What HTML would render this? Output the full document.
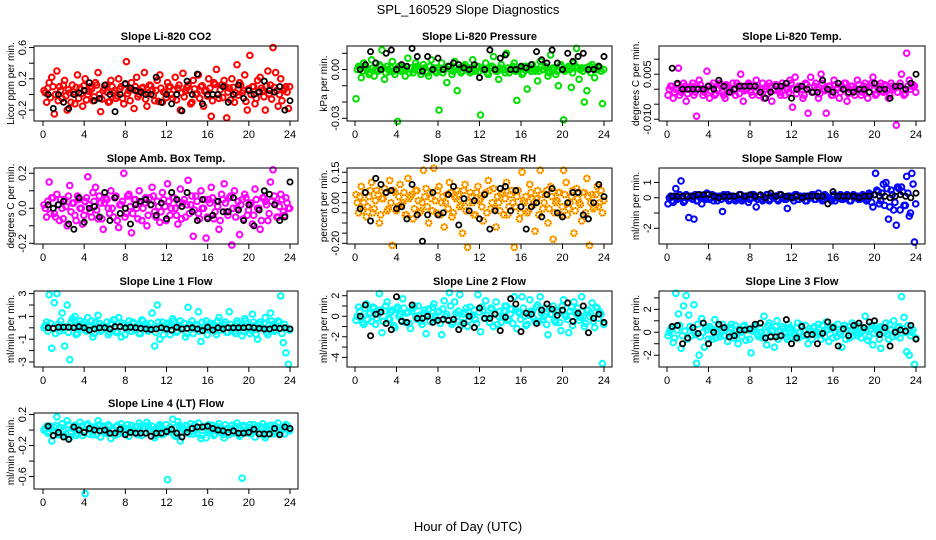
<!DOCTYPE html>
<html><head><meta charset="utf-8">
<style>
html,body{margin:0;padding:0;background:#fff;}
svg{display:block;font-family:"Liberation Sans",Arial,sans-serif;}
</style></head>
<body>
<svg id="chart" width="936" height="540" viewBox="0 0 936 540">
<text x="468" y="14" text-anchor="middle" font-size="13">SPL_160529  Slope Diagnostics</text>
<text x="468" y="531" text-anchor="middle" font-size="13">Hour of Day (UTC)</text>
</svg>
<script>
const xTicks = [0,4,8,12,16,20,24];
const co2Color = [0.05,-0.1,0.15,0.22,-0.25,0.3,0.1,-0.05,0.18,-0.2,0.02,0.12,-0.12,0.25,0.08,-0.15,0.2,0.0,0.1,-0.08,0.15,0.28,-0.22,0.05,0.12,-0.1,0.18,0.02,-0.05,0.2,0.1,-0.12,0.42,0.05,0.15,-0.18,0.22,0.0,0.08,0.28,-0.15,0.12,0.05,-0.08,0.18,0.25,-0.1,0.02,0.15,0.1,-0.05,0.22,0.08,-0.2,0.27,0.05,0.12,-0.12,0.18,0.0,0.25,0.1,-0.15,0.05,0.2,-0.28,0.15,0.32,-0.05,0.12,0.18,-0.3,0.08,0.2,-0.1,0.38,0.15,0.02,0.25,-0.2,0.5,0.1,-0.12,0.18,0.22,0.05,-0.2,0.3,0.12,0.6,0.28,-0.15,0.2,0.05,0.1,-0.18];
const co2Core = [0.02,0.08,-0.04,0.1,0.0,-0.08,0.05,0.12,-0.02,0.06,-0.1,0.03,0.09,-0.05,0.01,0.11,-0.07,0.04,0.07,-0.03,0.12,0.0,-0.06,0.08,0.03,-0.09,0.1,0.05,-0.02,0.07,-0.05,0.13,0.01,-0.08,0.06,0.1,-0.03,0.04,0.09,-0.06,0.02,0.11,-0.01,0.05,-0.09,0.08,0.03,-0.04,0.1,0.0,0.06,-0.07,0.12,0.02,-0.03,0.09,0.05,-0.1,0.07,0.01,-0.05,0.11,0.04,-0.02,0.08,-0.08,0.13,0.0,0.06,-0.04,0.1,0.03,-0.07,0.09,0.02,-0.01,0.12,0.05,-0.09,0.07,0.0,0.1,-0.05,0.04,0.08,-0.03,0.11,0.01,-0.06,0.09,0.05,0.0,-0.08,0.07,0.03,0.1];
const co2Black = [0.0,-0.18,0.0,-0.1,-0.18,0.0,0.02,0.05,0.15,-0.08,-0.05,0.12,0.0,-0.22,0.0,0.14,0.08,0.05,0.03,0.0,0.0,0.22,-0.1,0.0,-0.12,0.0,-0.21,0.17,0.0,0.26,-0.12,0.0,0.0,0.0,0.1,-0.1,0.0,0.12,-0.05,0.05,0.0,0.03,0.17,0.05,0.03,0.1,-0.2,-0.08];
const presColor = [-0.018,0.002,-0.005,0.004,0.001,-0.003,0.006,-0.004,0.0,0.003,0.012,-0.006,0.002,-0.001,0.005,-0.003,-0.032,0.002,0.0,-0.004,0.007,0.001,-0.002,0.004,0.0,-0.003,0.003,-0.001,-0.004,0.006,0.001,-0.002,-0.025,0.004,0.0,-0.008,0.002,-0.003,0.005,-0.013,0.001,-0.001,0.003,0.0,-0.002,0.006,-0.001,0.002,-0.028,0.0,0.004,-0.003,0.002,0.008,-0.001,-0.006,0.003,0.0,0.010,-0.002,0.001,0.004,-0.019,0.0,-0.003,0.002,-0.012,0.001,0.003,-0.001,-0.007,0.005,0.0,0.002,-0.004,0.009,0.001,-0.003,-0.010,0.003,-0.031,0.0,0.002,-0.011,0.004,0.013,-0.006,0.001,-0.020,-0.013,0.002,0.003,-0.005,0.0,0.001,-0.021];
const presCore = [0.0,0.001,-0.001,0.002,0.0,-0.002,0.001,0.0,-0.001,0.002,0.001,-0.002,0.0,0.001,-0.001,0.0,0.002,-0.001,0.001,0.0,-0.002,0.001,0.0,0.002,-0.001,0.0,0.001,-0.002,0.002,0.0,-0.001,0.001,0.0,-0.002,0.001,0.002,0.0,-0.001,0.001,0.0,-0.002,0.002,0.0,0.001,-0.001,0.0,0.002,-0.001,0.001,0.0,-0.002,0.001,0.002,0.0,-0.001,0.001,0.0,-0.002,0.001,0.0,0.002,-0.001,0.0,0.001,-0.002,0.002,0.0,-0.001,0.001,0.0,-0.001,0.002,0.0,0.001,-0.002,0.0,0.001,-0.001,0.002,0.0,-0.001,0.001,0.0,-0.002,0.002,0.001,0.0,-0.001,0.001,0.0,-0.002,0.001,0.0,0.002,-0.001,0.0];
const presBlack = [0.0,0.003,0.011,0.004,0.0,0.01,0.012,0.0,0.003,0.002,0.013,0.008,-0.001,0.008,0.0,0.007,0.0,0.002,0.004,0.003,0.001,0.0,0.003,-0.005,0.0,0.012,0.0,0.007,0.009,0.0,0.0,0.002,0.001,0.003,0.011,0.006,0.004,0.012,0.004,0.0,0.01,0.005,0.008,0.01,0.0,0.0,0.002,0.008];
const tempColor = [-0.002,0.001,-0.003,0.0,0.007,-0.001,0.002,-0.004,0.0,0.001,-0.002,-0.009,0.003,0.0,-0.001,0.006,-0.003,0.001,-0.002,0.0,0.002,-0.001,-0.003,0.001,0.0,0.002,-0.002,0.001,0.005,-0.004,0.0,0.002,-0.001,0.001,0.003,-0.002,0.0,-0.003,0.001,0.002,-0.004,0.0,0.001,-0.001,0.002,-0.002,0.0,0.003,-0.006,0.004,0.0,0.001,-0.003,0.002,-0.008,0.004,-0.001,0.002,-0.003,0.005,0.0,-0.008,0.001,-0.002,0.003,0.0,-0.003,0.001,0.002,-0.004,0.0,0.001,-0.002,0.003,0.0,-0.001,0.002,-0.003,0.001,0.004,-0.002,0.0,0.002,-0.001,0.001,-0.003,0.002,0.0,-0.012,0.001,0.005,-0.002,0.012,0.003,0.001,0.001];
const tempCore = [0.0,0.001,-0.001,0.0015,-0.002,0.0005,0.001,-0.0015,0.0,0.002,-0.001,0.0005,0.0015,-0.002,0.0,0.001,-0.0005,0.002,-0.0015,0.0,0.001,-0.002,0.0015,0.0005,-0.001,0.0,0.002,-0.0015,0.001,-0.0005,0.0,0.0015,-0.002,0.001,0.0005,-0.001,0.002,0.0,-0.0015,0.001,-0.0005,0.0015,0.0,-0.002,0.001,0.0005,-0.001,0.002,0.0,-0.0015,0.001,0.0,-0.002,0.0015,0.0005,-0.001,0.001,0.0,-0.0015,0.002,-0.0005,0.0,0.001,-0.002,0.0015,0.0005,-0.001,0.0,0.002,-0.0015,0.001,-0.0005,0.0,0.0015,-0.002,0.001,0.0005,-0.001,0.002,0.0,-0.0015,0.001,-0.0005,0.0015,0.0,-0.002,0.001,0.0005,-0.001,0.002,0.0,-0.0015,0.001,0.0,0.0015,-0.001];
const tempBlack = [0.007,0.002,0.0,0.0,0.0,0.0,0.0,0.001,0.0,0.003,0.001,-0.001,0.0,0.001,0.001,0.001,0.001,-0.001,-0.003,-0.001,0.001,0.001,0.002,-0.003,0.0,0.001,0.0,-0.001,-0.001,0.003,0.0,-0.001,0.002,0.0,-0.001,-0.001,0.0,0.0,-0.001,0.002,0.0,0.0,-0.003,0.001,0.001,0.0,0.002,0.005];
const ambColor = [0.02,-0.05,0.15,0.06,-0.03,0.08,-0.07,0.0,0.05,-0.1,0.13,0.03,-0.04,0.07,0.0,-0.09,0.04,0.18,-0.02,0.09,0.12,-0.06,0.03,-0.12,0.06,0.0,0.1,-0.05,0.07,-0.11,0.02,0.2,-0.03,0.08,-0.14,0.05,0.0,0.1,-0.07,0.03,-0.1,0.06,0.12,-0.02,0.04,-0.08,0.09,0.01,0.14,-0.04,0.06,0.0,-0.09,0.11,0.03,-0.05,0.16,0.02,-0.16,0.07,-0.03,0.1,0.0,-0.17,0.05,0.12,-0.06,0.04,-0.12,0.08,0.14,-0.02,0.06,-0.21,0.1,0.0,-0.15,0.05,0.08,-0.04,0.02,-0.09,0.11,0.0,-0.12,0.06,0.04,-0.07,0.15,0.22,0.03,-0.05,0.08,-0.02,0.06,0.0];
const ambCore = [0.0,0.04,-0.03,0.06,-0.05,0.02,0.05,-0.06,0.01,0.07,-0.02,0.03,-0.07,0.05,0.0,-0.04,0.06,0.02,-0.05,0.04,-0.01,0.07,-0.06,0.03,0.05,-0.03,0.0,0.06,-0.07,0.02,0.04,-0.05,0.07,0.01,-0.03,0.05,-0.06,0.03,0.0,0.06,-0.04,0.02,0.07,-0.05,0.01,-0.02,0.05,-0.07,0.04,0.0,0.06,-0.04,0.03,-0.06,0.05,0.02,-0.03,0.07,-0.01,0.04,-0.06,0.0,0.05,-0.05,0.03,0.06,-0.02,0.01,-0.07,0.05,0.03,-0.04,0.07,0.0,-0.05,0.04,0.02,-0.06,0.06,-0.01,0.03,-0.04,0.05,0.0,-0.07,0.06,0.02,-0.03,0.04,0.07,-0.05,0.01,0.05,-0.04,0.03,0.0];
const ambBlack = [0.02,0.0,0.02,0.04,-0.09,-0.12,0.06,-0.08,0.0,0.01,-0.05,0.09,-0.07,0.06,-0.03,0.0,-0.09,0.02,0.04,0.05,0.02,-0.04,0.03,-0.06,0.09,0.05,0.01,0.09,-0.02,-0.07,0.05,-0.06,-0.04,0.04,-0.02,-0.02,0.06,-0.01,-0.07,0.02,-0.1,-0.01,0.1,0.08,0.02,-0.07,-0.05,0.15];
const rhColor = [0.04,-0.05,0.08,0.0,-0.07,0.03,0.1,-0.03,0.06,-0.1,0.02,0.07,-0.04,0.11,-0.21,0.05,-0.02,0.09,0.0,-0.06,0.12,0.03,-0.08,0.06,0.01,-0.04,0.16,0.07,-0.1,0.02,0.17,-0.05,0.08,0.0,-0.12,0.04,0.1,-0.07,0.03,0.06,-0.02,-0.15,0.09,-0.22,0.05,0.0,-0.06,0.08,0.02,-0.09,0.05,0.11,-0.03,0.07,-0.12,0.0,0.04,-0.06,0.1,-0.02,0.06,-0.22,0.03,-0.08,0.15,0.0,-0.05,0.09,0.02,-0.14,0.06,0.16,-0.03,0.04,-0.1,0.08,-0.18,0.0,0.05,-0.06,0.16,0.1,-0.03,0.03,-0.15,0.07,0.0,-0.09,0.05,0.12,-0.21,0.04,-0.02,0.08,0.0,-0.05];
const rhCore = [0.0,0.03,-0.04,0.05,-0.02,0.06,-0.05,0.01,0.04,-0.06,0.02,0.05,-0.03,0.0,0.06,-0.04,0.03,-0.01,0.05,-0.06,0.02,0.04,-0.03,0.06,-0.05,0.0,0.03,-0.02,0.05,-0.04,0.01,0.06,-0.06,0.03,0.0,-0.03,0.05,-0.05,0.02,0.04,-0.01,0.06,-0.04,0.0,0.03,-0.06,0.05,0.01,-0.02,0.04,-0.05,0.06,0.0,-0.03,0.03,-0.04,0.05,0.02,-0.06,0.04,0.0,-0.02,0.06,-0.05,0.01,0.03,-0.04,0.05,-0.01,0.02,-0.06,0.04,0.0,0.06,-0.03,0.03,-0.05,0.01,0.05,-0.02,0.04,-0.06,0.0,0.06,-0.04,0.02,-0.01,0.05,-0.05,0.03,0.0,-0.03,0.04,-0.02,0.06,0.01];
const rhBlack = [-0.03,0.05,-0.09,0.12,0.09,0.05,0.06,-0.03,-0.02,-0.08,0.09,-0.06,-0.19,-0.06,0.05,-0.06,-0.05,0.04,0.08,-0.11,0.02,-0.04,0.01,-0.08,0.04,-0.13,-0.04,0.07,0.08,-0.04,0.06,-0.02,-0.13,-0.02,0.0,-0.07,0.04,0.07,-0.05,-0.07,0.0,0.05,0.05,-0.06,-0.08,0.0,0.09,0.03];
const flowColor = [-0.4,0.1,-0.3,0.6,0.0,1.1,-0.3,0.2,-1.3,0.1,-1.4,-0.2,0.2,-0.4,0.0,0.3,-0.1,0.2,0.0,-0.2,0.1,-0.9,0.0,0.2,-0.1,0.1,-0.2,0.0,0.2,-0.1,0.1,-0.3,0.0,0.2,-0.6,0.1,-0.1,0.0,0.2,-0.2,0.1,0.0,-0.1,0.2,0.0,-0.1,-0.7,0.1,0.0,0.2,-0.1,0.1,0.0,-0.2,0.1,0.0,0.2,-0.1,0.3,0.0,-0.1,0.1,0.0,-0.2,0.2,0.0,0.1,-0.1,0.0,0.2,-0.2,0.1,0.0,0.1,-0.1,0.2,0.0,-0.1,0.2,-0.6,1.6,0.4,-0.2,0.9,1.0,-1.4,0.5,-0.8,-1.8,0.6,0.7,-0.5,1.4,-1.2,1.6,-2.9];
const flowCore = [0.0,-0.2,0.1,-0.1,0.2,0.0,-0.2,0.1,0.0,-0.1,0.2,-0.2,0.0,0.1,-0.1,0.2,0.0,-0.2,0.1,0.0,-0.1,0.2,0.0,-0.2,0.1,-0.1,0.0,0.2,-0.2,0.0,0.1,-0.1,0.2,0.0,-0.1,0.1,-0.2,0.0,0.2,-0.1,0.0,0.1,-0.2,0.2,0.0,-0.1,0.1,0.0,-0.2,0.2,-0.1,0.0,0.1,-0.2,0.0,0.2,-0.1,0.1,0.0,-0.2,0.2,0.0,-0.1,0.1,-0.2,0.0,0.2,-0.1,0.0,0.1,-0.2,0.2,0.0,-0.1,0.1,0.0,-0.2,0.3,-0.3,0.2,0.5,-0.4,0.3,-0.5,0.6,-0.6,0.2,-0.3,0.7,-0.8,0.4,-0.5,0.3,-1.0,0.9,-0.4];
const flowBlack = [0.1,0.1,0.1,0.1,0.1,0.2,0.2,0.2,0.1,0.0,0.1,0.1,0.1,0.2,0.1,0.2,0.1,0.2,0.0,0.3,0.1,0.2,0.1,0.0,0.1,0.0,0.1,0.1,0.1,0.1,-0.4,0.4,0.1,0.1,0.1,0.1,0.0,0.1,0.1,0.2,0.1,0.1,0.0,0.1,0.2,0.1,0.0,0.3];
const line1Color = [0.0,0.5,2.9,-1.8,2.2,3.0,-0.3,1.3,-1.6,2.0,-2.8,0.8,1.0,-0.5,0.6,0.3,-0.2,0.9,0.1,-0.8,0.5,1.1,-0.3,0.2,0.0,-0.6,0.4,0.7,-0.4,0.9,-0.8,0.2,0.0,0.6,-0.3,0.4,0.1,-0.5,0.7,0.0,0.3,-0.2,1.3,-1.6,2.0,-1.0,0.5,0.0,0.4,-0.6,0.8,0.1,-0.3,0.6,0.0,-0.8,1.8,0.2,-0.5,0.3,1.4,-1.2,0.0,0.6,-0.2,0.4,0.1,-0.6,0.9,0.0,0.3,-0.4,1.4,0.0,-0.3,0.6,0.1,-0.7,0.8,0.0,-0.5,1.2,0.2,-1.0,0.5,0.0,0.9,-0.6,1.3,0.3,-0.2,0.6,2.8,-1.3,-2.2,-3.2];
const line1Core = [0.2,-0.3,0.4,0.0,-0.5,0.3,0.6,-0.2,0.1,-0.4,0.5,0.2,-0.6,0.3,0.0,0.5,-0.3,0.2,0.6,-0.5,0.1,0.4,-0.2,0.0,0.5,-0.4,0.3,0.7,-0.3,0.1,0.4,-0.6,0.2,0.0,0.5,-0.2,0.3,-0.5,0.6,0.1,-0.3,0.4,0.0,-0.4,0.5,0.2,-0.6,0.3,0.1,-0.2,0.6,-0.4,0.2,0.0,0.4,-0.5,0.3,0.6,-0.1,0.2,-0.3,0.5,0.0,-0.6,0.4,0.2,-0.3,0.6,-0.2,0.1,0.5,-0.4,0.3,0.0,-0.5,0.4,0.2,-0.3,0.6,0.1,-0.2,0.5,-0.6,0.3,0.0,0.4,-0.4,0.2,0.6,-0.3,0.1,0.5,-0.5,0.3,0.0,-0.2];
const line1Black = [0.0,-0.05,0.05,0.05,0.05,0.0,0.1,0.0,-0.2,-0.1,0.0,0.0,-0.1,0.1,0.1,0.0,0.05,0.0,-0.05,-0.1,-0.15,-0.1,0.0,-0.1,-0.2,0.05,-0.1,-0.05,0.0,-0.1,-0.25,0.05,-0.2,0.0,-0.1,0.0,0.0,0.0,0.0,0.05,0.0,-0.05,-0.1,-0.1,0.0,-0.05,0.0,-0.1];
const line2Color = [-0.4,0.9,0.0,-0.8,1.2,0.3,-0.5,0.8,-0.2,2.2,-1.6,0.5,1.4,-0.3,0.6,-1.1,0.9,0.2,1.7,-0.6,0.4,-1.2,0.8,0.0,1.0,-0.5,0.3,-1.7,0.7,0.0,1.2,-0.4,0.5,-1.8,1.5,0.2,2.3,-0.8,1.4,0.0,2.1,-0.6,0.4,-1.0,0.9,0.1,-0.3,2.1,-1.5,0.6,1.5,-0.2,0.8,-1.0,1.4,0.0,-0.6,0.5,1.0,-0.3,0.7,1.9,-1.2,0.3,1.9,0.0,-0.8,1.6,0.4,-0.5,1.1,1.9,-0.3,0.8,-1.8,0.2,1.0,-0.6,0.4,-1.4,1.6,0.0,-1.6,0.9,1.4,0.2,-0.4,1.9,-1.0,0.6,0.0,1.3,-1.1,0.8,0.4,-4.6];
const line2Core = [0.0,0.5,-0.6,0.8,-0.3,0.3,0.9,-0.8,0.2,0.6,-0.5,1.0,-0.2,0.4,-0.9,0.7,0.0,-0.4,0.8,0.3,-0.7,0.5,1.0,-0.3,0.1,-0.8,0.6,0.2,-0.5,0.9,-0.1,0.4,-0.7,0.7,0.0,-0.3,1.0,-0.6,0.3,0.5,-0.9,0.2,0.8,-0.4,0.0,0.6,-0.7,0.4,0.9,-0.2,0.1,-0.6,0.7,0.3,-0.8,0.5,0.0,1.0,-0.4,0.2,-0.7,0.6,0.4,-0.3,0.8,-0.9,0.1,0.5,-0.2,0.9,-0.5,0.3,0.0,-0.8,0.7,0.2,-0.4,0.6,-0.6,1.0,0.1,-0.3,0.5,-0.9,0.4,0.8,-0.1,0.0,-0.7,0.6,0.3,-0.5,0.9,-0.2,0.2,-0.8];
const line2Black = [0.0,1.1,-1.9,0.2,0.4,-0.7,-1.3,1.9,-0.5,-0.6,1.1,-0.2,-0.2,0.0,-0.6,-0.4,-0.3,-0.4,-0.3,-1.3,-0.7,0.0,-1.1,0.8,-0.2,-0.2,0.2,-1.4,-0.1,1.7,1.2,-1.5,0.3,0.2,-0.7,0.6,1.2,0.7,0.1,0.6,1.3,-0.5,0.3,1.0,-1.6,-0.2,0.2,-0.6];
const line3Color = [-0.3,0.3,-0.9,3.4,1.6,-1.4,2.3,3.2,1.5,-0.3,2.4,-2.7,-2.0,1.2,-1.3,0.2,0.5,-0.6,1.1,0.0,-0.4,0.7,0.2,-0.8,0.4,-0.2,0.6,-1.0,0.0,0.5,-0.7,0.2,-1.8,0.3,0.6,-0.4,0.0,1.4,-1.1,0.8,0.1,-1.3,1.0,-0.3,0.5,0.0,-0.6,0.4,0.2,-0.5,0.8,0.0,-0.3,0.6,-1.0,0.1,0.4,-0.2,0.7,-0.6,0.0,0.9,-0.8,0.3,0.5,-0.4,0.0,-1.3,0.6,0.2,-0.5,0.8,0.0,-0.3,0.5,0.1,1.4,-0.7,0.3,-1.1,0.6,0.0,-1.4,0.4,0.8,-0.6,0.2,1.0,-0.3,0.5,3.1,1.3,-1.7,-2.0,0.0,-2.8];
const line3Core = [0.0,0.4,-0.5,0.2,0.6,-0.3,0.1,-0.6,0.5,0.3,-0.2,0.7,-0.4,0.0,0.5,-0.6,0.3,0.2,-0.5,0.6,0.0,-0.3,0.4,-0.1,0.7,-0.5,0.2,0.0,-0.4,0.6,0.3,-0.6,0.1,0.5,-0.2,0.4,-0.5,0.0,0.6,-0.3,0.2,0.5,-0.6,0.1,0.3,-0.4,0.7,0.0,-0.2,0.4,-0.5,0.6,0.1,-0.3,0.3,-0.6,0.5,0.0,-0.1,0.6,-0.4,0.2,0.4,-0.5,0.0,0.7,-0.2,0.3,-0.6,0.5,0.1,-0.3,0.6,0.0,-0.5,0.4,0.2,-0.4,0.6,-0.1,0.3,-0.6,0.5,0.0,-0.2,0.7,-0.4,0.1,0.4,-0.5,0.3,0.0,0.6,-0.3,0.2,-0.5];
const line3Black = [0.5,0.6,-1.0,-0.5,0.4,-0.1,0.8,-1.0,0.0,0.7,0.4,-0.4,-0.3,0.2,0.2,0.3,0.7,0.8,-0.5,-0.4,-0.4,-0.3,1.1,-1.0,-0.5,0.5,-0.2,-0.2,-1.0,-0.1,0.9,0.4,-1.2,0.3,-0.3,0.6,0.8,0.4,0.9,1.0,-0.2,0.4,-1.2,0.0,0.2,0.1,0.6,-0.6];
const line4Color = [0.0,0.05,-0.02,-0.14,0.03,0.17,-0.05,0.08,-0.08,0.12,-0.1,0.02,0.06,-0.04,0.1,-0.07,-0.82,0.08,0.0,-0.06,0.03,0.12,-0.09,0.05,-0.02,0.07,-0.11,0.0,0.04,-0.05,0.08,-0.03,0.02,-0.08,0.06,0.0,-0.04,0.09,-0.07,0.03,0.1,-0.02,0.05,-0.1,-0.05,0.07,-0.06,0.0,-0.64,0.04,0.14,-0.08,0.11,-0.14,0.03,0.06,-0.02,0.08,-0.05,0.0,0.09,-0.11,0.04,-0.1,0.07,0.0,-0.07,0.05,0.08,-0.03,-0.1,0.02,-0.06,0.06,-0.02,0.09,-0.08,-0.62,0.04,-0.04,0.07,0.0,-0.09,0.05,-0.03,0.08,-0.1,0.02,0.06,-0.05,0.0,0.09,-0.04,0.03,0.07,0.0];
const line4Core = [0.02,-0.04,0.05,-0.01,0.06,-0.06,0.03,0.0,-0.05,0.07,-0.02,0.04,-0.07,0.01,0.05,-0.03,0.06,-0.05,0.0,0.04,-0.06,0.07,-0.01,0.03,-0.04,0.05,0.01,-0.07,0.06,-0.02,0.03,-0.05,0.07,0.0,-0.03,0.04,-0.06,0.05,0.02,-0.04,0.06,-0.01,0.0,-0.07,0.05,0.03,-0.05,0.07,-0.02,0.01,-0.06,0.04,0.06,-0.03,0.0,0.05,-0.05,0.02,0.07,-0.04,0.03,-0.07,0.05,0.0,-0.02,0.06,-0.05,0.04,0.01,-0.06,0.07,-0.03,0.02,-0.04,0.05,0.0,-0.06,0.06,-0.01,0.03,-0.05,0.07,0.02,-0.03,0.04,-0.07,0.05,0.0,-0.02,0.06,-0.04,0.03,0.01,-0.05,0.06,-0.01];
const line4Black = [0.05,-0.07,-0.03,-0.09,-0.12,0.04,0.0,-0.03,0.02,0.0,-0.01,0.0,-0.04,-0.04,0.01,-0.06,-0.03,-0.04,-0.04,-0.04,-0.08,-0.04,-0.04,-0.02,0.01,-0.04,-0.09,-0.03,0.02,0.04,0.04,0.05,0.02,0.0,-0.01,-0.03,-0.01,-0.04,-0.04,-0.03,0.01,-0.05,-0.05,-0.05,0.02,-0.06,0.04,0.02];

const NS='http://www.w3.org/2000/svg';
const svg=document.getElementById('chart');
const cols=[{l:34,r:298,x0:43,x24:290,yl:10},{l:347,r:612,x0:355,x24:604,yl:323},{l:659,r:925,x0:667,x24:916,yl:635}];
const rows=[{t:46,b:121},{t:168,b:244},{t:291,b:367},{t:413,b:489}];
const panels=[
 {name:'co2',title:'Slope Li-820 CO2',ylab:'Licor ppm per min.',c:0,r:0,ymin:-0.34,ymax:0.62,ticks:[-0.2,0,0.2,0.4,0.6],labels:['-0.2','0.2','0.6'],lv:[-0.2,0.2,0.6],col:'#ff0000',data:co2Color,core:co2Core,blk:co2Black},
 {name:'pressure',title:'Slope Li-820 Pressure',ylab:'kPa per min.',c:1,r:0,ymin:-0.0317,ymax:0.0145,ticks:[-0.03,-0.02,-0.01,0,0.01],labels:['-0.03','0.00'],lv:[-0.03,0],col:'#00e000',data:presColor,core:presCore,blk:presBlack},
 {name:'li820-temp',title:'Slope Li-820 Temp.',ylab:'degrees C per min.',c:2,r:0,ymin:-0.0106,ymax:0.0144,ticks:[-0.01,-0.005,0,0.005,0.01],labels:['-0.010','0.005'],lv:[-0.01,0.005],col:'#ff00ff',data:tempColor,core:tempCore,blk:tempBlack},
 {name:'amb-box-temp',title:'Slope Amb. Box Temp.',ylab:'degrees C per min.',c:0,r:1,ymin:-0.204,ymax:0.23,ticks:[-0.2,-0.1,0,0.1,0.2],labels:['-0.2','0.0','0.2'],lv:[-0.2,0,0.2],col:'#ff00ff',data:ambColor,core:ambCore,blk:ambBlack},
 {name:'gas-stream-rh',title:'Slope Gas Stream RH',ylab:'percent per min.',c:1,r:1,ymin:-0.2035,ymax:0.171,ticks:[-0.2,-0.15,-0.1,-0.05,0,0.05,0.1,0.15],labels:['-0.20','0.00','0.15'],lv:[-0.2,0,0.15],col:'#ffd000',col2:'#ff5000',data:rhColor,core:rhCore,blk:rhBlack},
 {name:'sample-flow',title:'Slope Sample Flow',ylab:'ml/min per min.',c:2,r:1,ymin:-3.03,ymax:1.95,ticks:[-2,-1,0,1],labels:['-2','0','1'],lv:[-2,0,1],col:'#0000ff',data:flowColor,core:flowCore,blk:flowBlack},
 {name:'line1-flow',title:'Slope Line 1 Flow',ylab:'ml/min per min.',c:0,r:2,ymin:-3.44,ymax:3.23,ticks:[-3,-2,-1,0,1,2,3],labels:['-3','-1','1','3'],lv:[-3,-1,1,3],col:'#00ffff',data:line1Color,core:line1Core,blk:line1Black},
 {name:'line2-flow',title:'Slope Line 2 Flow',ylab:'ml/min per min.',c:1,r:2,ymin:-4.94,ymax:2.46,ticks:[-4,-3,-2,-1,0,1,2],labels:['-4','-2','0','2'],lv:[-4,-2,0,2],col:'#00ffff',data:line2Color,core:line2Core,blk:line2Black},
 {name:'line3-flow',title:'Slope Line 3 Flow',ylab:'ml/min per min.',c:2,r:2,ymin:-3.03,ymax:3.6,ticks:[-2,-1,0,1,2,3],labels:['-2','0','2'],lv:[-2,0,2],col:'#00ffff',data:line3Color,core:line3Core,blk:line3Black},
 {name:'line4-flow',title:'Slope Line 4 (LT) Flow',ylab:'ml/min per min.',c:0,r:3,ymin:-0.76,ymax:0.22,ticks:[-0.6,-0.4,-0.2,0,0.2],labels:['-0.6','-0.2','0.2'],lv:[-0.6,-0.2,0.2],col:'#00ffff',data:line4Color,core:line4Core,blk:line4Black}
];
function mk(tag,attrs,parent){const e=document.createElementNS(NS,tag);for(const k in attrs)e.setAttribute(k,attrs[k]);(parent||svg).appendChild(e);return e;}
panels.forEach(p=>{
  const C=cols[p.c],R=rows[p.r];
  const g=mk('g',{});
  
  
  const xs=h=>C.x0+(C.x24-C.x0)*h/24;
  const ys=v=>R.b-(v-p.ymin)/(p.ymax-p.ymin)*(R.b-R.t);
  const t=mk('text',{x:(C.l+C.r)/2,y:R.t-6,'text-anchor':'middle','font-size':'11','font-weight':'bold'},g);
  t.textContent=p.title;
  
  
  const yl=mk('text',{transform:`translate(${C.yl+4},${(R.t+R.b)/2}) rotate(-90)`,'text-anchor':'middle','font-size':'10'},g);
  yl.textContent=p.ylab;
  
  
  const drawColor=(arr,off)=>{
    const n=arr.length;
    arr.forEach((v,i)=>{
      const cx=xs(i*24/n+off),cy=ys(v);
      const c1=mk('circle',{cx:cx,cy:cy,r:2.8,fill:'none',stroke:p.col,'stroke-width':2},g);
      
      
      if(p.col2){mk('circle',{cx:cx,cy:cy,r:2.8,fill:'none',stroke:p.col2,'stroke-width':2,'stroke-dasharray':'1 1.5'},g);}
    });
  };
  drawColor(p.data,0.1);
  drawColor(p.core,0.22);
  p.blk.forEach((v,i)=>{
    const c2=mk('circle',{cx:xs(i*0.5+0.5),cy:ys(v),r:2.6,fill:'none',stroke:'#000','stroke-width':1.8},g);
    
    
  });
  const box=mk('rect',{x:C.l,y:R.t,width:C.r-C.l,height:R.b-R.t,fill:'none',stroke:'#000','stroke-width':1},g);
  
  
  xTicks.forEach(h=>{
    mk('line',{x1:xs(h),x2:xs(h),y1:R.b,y2:R.b+5,stroke:'#000'},g);
    const tl=mk('text',{x:xs(h),y:R.b+17,'text-anchor':'middle','font-size':'11'},g);
    tl.textContent=String(h);
    
    
  });
  p.ticks.forEach(v=>{mk('line',{x1:C.l-5,x2:C.l,y1:ys(v),y2:ys(v),stroke:'#000'},g);});
  p.labels.forEach((s,i)=>{
    const yy=ys(p.lv[i]);
    const tl=mk('text',{transform:`translate(${C.l-8},${yy}) rotate(-90)`,'text-anchor':'middle','font-size':'11'},g);
    tl.textContent=s;
    
    
  });
});
</script>
</body></html>
